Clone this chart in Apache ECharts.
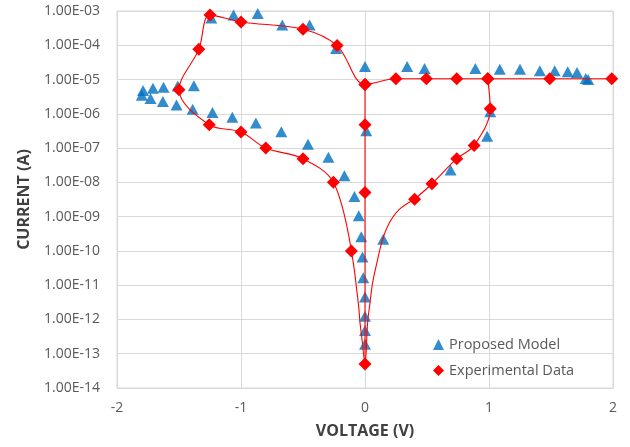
<!DOCTYPE html>
<html>
<head>
<meta charset="utf-8">
<script src="https://cdn.jsdelivr.net/npm/echarts@6/dist/echarts.min.js"></script>
<style>
  html, body { margin: 0; padding: 0; background: #fff; }
  #chart { width: 630px; height: 447px; }
</style>
</head>
<body>
<div id="chart"></div>
<script>
// Experimental data, sweep from +2 V back through the negative loop
var expUpperV = [1.99, 1.49, 0.99, 0.74, 0.495, 0.249, 0, -0.225, -0.50, -1.00, -1.25, -1.34, -1.50, -1.256, -1.00, -0.80, -0.50, -0.255, -0.11];
var expUpperI = [1.05e-5, 1.05e-5, 1.05e-5, 1.05e-5, 1.05e-5, 1.05e-5, 7.2e-6, 9.8e-5, 2.95e-4, 4.8e-4, 7.6e-4, 7.6e-5, 5.0e-6, 4.8e-7, 2.95e-7, 1.0e-7, 4.9e-8, 1.0e-8, 1.0e-10];
// Experimental data, positive branch up to the set point
var expLowerV = [0.40, 0.54, 0.74, 0.88, 1.01, 0.99];
var expLowerI = [3.2e-9, 9.1e-9, 4.9e-8, 1.2e-7, 1.4e-6, 1.05e-5];
// Experimental data, vertical branch at 0 V
var expCenterV = [0, 0, 0, 0];
var expCenterI = [7.2e-6, 4.8e-7, 5.1e-9, 5.0e-14];
// fitted trace of the dip near 0 V (line only, no markers)
var expDipV = [-0.11, -0.086, -0.067, -0.051, -0.04, -0.024, 0, 0.021, 0.04, 0.061, 0.101, 0.141, 0.195, 0.275, 0.40];
var expDipI = [1.0e-10, 2.8e-11, 7.4e-12, 2.4e-12, 7.9e-13, 2.6e-13, 5.0e-14, 7.9e-13, 3.0e-12, 1.15e-11, 5.5e-11, 2.1e-10, 6.4e-10, 1.6e-9, 3.2e-9];

// Proposed model points
var modelV = [-1.24, -1.06, -0.865, -0.667, -0.447, -0.233,
  -1.38, -1.51, -1.625, -1.71, -1.79, -1.80,
  -1.73, -1.63, -1.52, -1.39, -1.23, -1.07, -0.88, -0.675, -0.46, -0.295, -0.166, -0.085,
  -0.05, -0.03, -0.02, -0.014, 0, 0, 0, 0,
  0.01, 0, 0.147, 0.34, 0.48, 0.89, 1.087, 1.25, 1.41, 1.53, 1.635, 1.71, 1.78, 1.80,
  1.01, 0.985, 0.69];
var modelI = [6.2e-4, 7.6e-4, 8.5e-4, 3.9e-4, 3.9e-4, 8.1e-5,
  6.6e-6, 6.5e-6, 6.0e-6, 5.6e-6, 4.8e-6, 3.5e-6,
  2.8e-6, 2.3e-6, 1.8e-6, 1.35e-6, 1.1e-6, 7.9e-7, 5.4e-7, 3.0e-7, 1.3e-7, 5.4e-8, 1.55e-8, 3.9e-9,
  1.07e-9, 2.6e-10, 6.6e-11, 1.66e-11, 4.5e-12, 1.23e-12, 4.8e-13, 1.9e-13,
  3.2e-7, 2.4e-5, 2.2e-10, 2.4e-5, 2.1e-5, 2.1e-5, 2.0e-5, 2.0e-5, 1.8e-5, 1.8e-5, 1.7e-5, 1.6e-5, 1.07e-5, 1.0e-5,
  1.15e-6, 2.2e-7, 2.3e-8];

var xTicks = [-2, -1, 0, 1, 2];

function pairs(xs, ys) {
  return xs.map(function (x, i) { return [x, ys[i]]; });
}

// 1e-5 -> "1.00E-05"
function sciLabel(v) {
  var e = Math.round(Math.log10(v));
  return '1.00E' + (e < 0 ? '-' : '+') + String(Math.abs(e)).padStart(2, '0');
}

var FONT = '"Open Sans", "Noto Sans", sans-serif';
var RED = '#ff0000';
var BLUE = '#0070c0';

var chart = echarts.init(document.getElementById('chart'), null, { renderer: 'canvas' });

// all experimental pieces share one name so the legend shows a single entry
function expSeries(xs, ys, marked) {
  return {
    name: 'Experimental Data',
    type: 'line',
    smooth: 0.35,
    symbol: marked ? 'diamond' : 'none',
    symbolSize: 13,
    itemStyle: { color: RED },
    lineStyle: { color: RED, width: 1.1 },
    z: 3,
    data: pairs(xs, ys)
  };
}

var option = {
  animation: false,
  grid: {
    left: 117, right: 17, top: 11, bottom: 59,
    show: true, borderColor: '#d9d9d9', borderWidth: 1
  },
  legend: {
    orient: 'vertical',
    left: 428, top: 332,
    itemGap: 11,
    itemWidth: 11, itemHeight: 11,
    textStyle: { color: '#595959', fontSize: 14.5, fontFamily: FONT },
    data: [
      { name: 'Proposed Model', icon: 'triangle', itemStyle: { color: BLUE } },
      { name: 'Experimental Data', icon: 'diamond', itemStyle: { color: RED } }
    ]
  },
  xAxis: {
    type: 'value',
    min: xTicks[0], max: xTicks[xTicks.length - 1], interval: 1,
    name: 'VOLTAGE (V)',
    nameLocation: 'middle',
    nameGap: 35,
    nameTextStyle: { color: '#404040', fontSize: 16, fontWeight: 'bold', fontFamily: FONT },
    axisLine: { lineStyle: { color: '#d9d9d9' } },
    axisTick: { show: false },
    axisLabel: { color: '#595959', fontSize: 14, fontFamily: FONT, margin: 13 },
    splitLine: { lineStyle: { color: '#d9d9d9' } }
  },
  yAxis: {
    type: 'log',
    logBase: 10,
    min: 1e-14, max: 1e-3,
    interval: 1,
    name: 'CURRENT (A)',
    nameLocation: 'middle',
    nameGap: 85,
    nameTextStyle: { color: '#404040', fontSize: 16, fontWeight: 'bold', fontFamily: FONT },
    axisLine: { show: true, lineStyle: { color: '#d9d9d9' } },
    axisTick: { show: false },
    axisLabel: { color: '#595959', fontSize: 14, fontFamily: FONT, margin: 17, formatter: sciLabel },
    splitLine: { lineStyle: { color: '#d9d9d9' } }
  },
  series: [
    {
      name: 'Proposed Model',
      type: 'scatter',
      symbol: 'triangle',
      symbolSize: [12, 11],
      itemStyle: { color: BLUE },
      z: 2,
      data: pairs(modelV, modelI)
    },
    expSeries(expDipV, expDipI, false),
    expSeries(expUpperV, expUpperI, true),
    expSeries(expLowerV, expLowerI, true),
    expSeries(expCenterV, expCenterI, true)
  ]
};

chart.setOption(option);
</script>
</body>
</html>
